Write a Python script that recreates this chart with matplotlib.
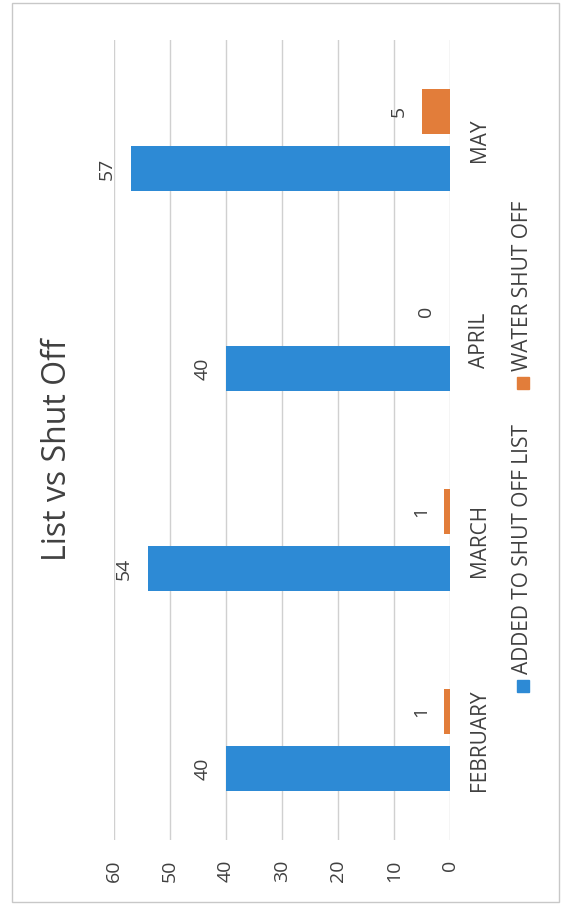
import matplotlib.pyplot as plt
import numpy as np
from matplotlib.patches import Rectangle

# chart data (chart is shown rotated 90 degrees, as in the scan)
months = ["FEBRUARY", "MARCH", "APRIL", "MAY"]
added_to_list = [40, 54, 40, 57]
water_shut_off = [1, 1, 0, 5]
series_names = ["ADDED TO SHUT OFF LIST", "WATER SHUT OFF"]
value_ticks = [0, 10, 20, 30, 40, 50, 60]

blue = "#2D8AD5"
orange = "#E27D3A"
txt = "#404040"
W, H = 563, 906

plt.rcParams['font.family'] = ['Open Sans', 'DejaVu Sans']

fig = plt.figure(figsize=(W / 100, H / 100), dpi=100)
fig.patch.set_facecolor("white")

def fx(px):
    return px / W

def fy(py):
    return 1 - py / H

# chart frame
fig.patches.append(Rectangle((fx(12), fy(902)), fx(559) - fx(12), fy(3) - fy(902),
                             transform=fig.transFigure, fill=False,
                             edgecolor="#c8c8c8", linewidth=1))

ax = fig.add_axes([fx(114), fy(840), fx(450) - fx(114), fy(40) - fy(840)])
pos = np.arange(len(months))
w = 0.224
off = (w + 0.27 * w) / 2
ax.barh(pos - off, added_to_list, height=w, color=blue, zorder=3)
ax.barh(pos + off, water_shut_off, height=w, color=orange, zorder=3)

for p, v in zip(pos, added_to_list):
    ax.annotate(str(v), (v, p - off), xytext=(-17, 0), textcoords="offset points",
                rotation=90, ha="center", va="center", fontsize=14, color=txt)
for p, v in zip(pos, water_shut_off):
    ax.annotate(str(v), (v, p + off), xytext=(-17, 0), textcoords="offset points",
                rotation=90, ha="center", va="center", fontsize=14, color=txt)

ax.set_xlim(60, 0)
ax.set_ylim(-0.5, len(months) - 0.5)
ax.set_xticks(value_ticks)
ax.set_xticklabels([str(t) for t in value_ticks], rotation=90, fontsize=14, color=txt)
ax.set_yticks(pos)
ax.set_yticklabels(months, rotation=90, va="center", fontsize=15, color=txt)
ax.yaxis.tick_right()
ax.tick_params(axis="both", length=0)
ax.tick_params(axis="x", pad=14)
ax.tick_params(axis="y", pad=14)
ax.grid(axis="x", color="#d0d0d0", linewidth=1, zorder=0)
for s in ax.spines.values():
    s.set_visible(False)

# title
fig.text(fx(58), fy(450), "List vs Shut Off", rotation=90, ha="center", va="center",
         fontsize=23, color=txt)

# legend
for (sq_y, text_y), name, col in zip([(686, 674), (383, 371)], series_names, [blue, orange]):
    fig.patches.append(Rectangle((fx(517), fy(sq_y + 6)), fx(12), 12 / H,
                                 transform=fig.transFigure, color=col))
    fig.text(fx(523), fy(text_y), name, rotation=90, ha="center", va="bottom",
             fontsize=15, color=txt)

fig.savefig("out.png", dpi=100)
